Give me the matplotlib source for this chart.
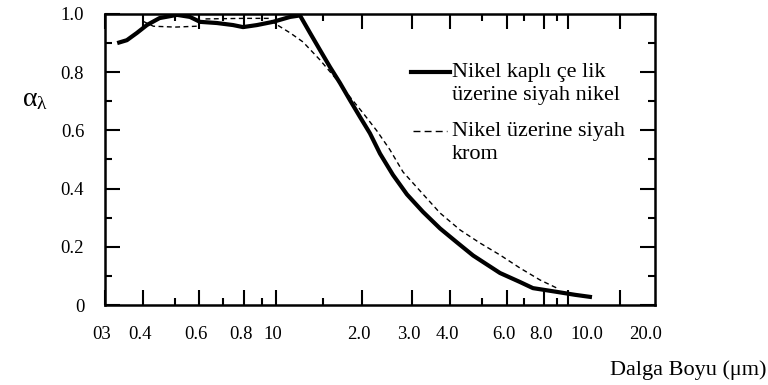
import matplotlib.pyplot as plt
import matplotlib.transforms as mtransforms
import numpy as np

plt.rcParams['font.family'] = ['Liberation Serif', 'DejaVu Serif']

# Nikel kapli celik uzerine siyah nikel (solid, thick)
x_nikel = [0.329, 0.354, 0.382, 0.411, 0.449, 0.508, 0.560, 0.604, 0.673, 0.746, 0.795,
           0.871, 0.977, 1.13, 1.23, 1.341, 1.462, 1.579, 1.70, 1.83, 1.971, 2.133,
           2.315, 2.571, 2.88, 3.26, 3.71, 4.20, 4.70, 5.70, 6.75, 7.43, 9.0, 10.98, 13.77]
y_nikel = [0.90, 0.91, 0.935, 0.962, 0.986, 0.997, 0.99, 0.973, 0.969, 0.962, 0.955,
           0.962, 0.973, 0.99, 0.995, 0.935, 0.876, 0.818, 0.763, 0.704, 0.646, 0.59,
           0.52, 0.447, 0.38, 0.32, 0.263, 0.215, 0.17, 0.11, 0.079, 0.058, 0.045, 0.035, 0.027]

# Nikel uzerine siyah krom (dashed, thin)
x_krom = [0.40, 0.43, 0.50, 0.59, 0.62, 0.80, 0.95, 1.0, 1.13, 1.262, 1.462, 1.664,
          1.83, 2.016, 2.258, 2.51, 2.79, 3.26, 3.71, 4.29, 4.93, 5.70, 6.75, 7.79, 9.0]
y_krom = [0.975, 0.958, 0.955, 0.958, 0.983, 0.985, 0.985, 0.965, 0.935, 0.904, 0.842,
          0.773, 0.715, 0.66, 0.598, 0.533, 0.457, 0.381, 0.316, 0.258, 0.213, 0.172, 0.127,
          0.086, 0.058]

xticks = [0.3, 0.4, 0.6, 0.8, 1.0, 2.0, 3.0, 4.0, 6.0, 8.0, 10.0, 20.0]
xticklabels = ['03', '0.4', '0.6', '0.8', '10', '2.0', '3.0', '4.0', '6.0', '8.0', '10.0', '20.0']
xminor = [0.5, 0.7, 0.9, 1.5, 5.0, 7.0, 9.0]
yticks = [0, 0.2, 0.4, 0.6, 0.8, 1.0]
yticklabels = ['0', '0.2', '0.4', '0.6', '0.8', '1.0']

# the printed axis is a slightly uneven log axis, mapped through these anchors
anchor_vals = np.log10([0.3, 0.4, 0.5, 0.6, 0.7, 0.8, 0.9, 1.0, 1.5, 2, 3, 4, 5, 6, 7, 8, 9, 10, 20, 30])
anchor_pos = np.array([0, 38, 70, 94, 118, 139, 157, 171, 218, 257, 307, 345, 377, 402,
                       419, 439, 452, 463, 515, 550]) / 550.0


def fwd(x):
    x = np.clip(np.asarray(x, dtype=float), 1e-6, None)
    return np.interp(np.log10(x), anchor_vals, anchor_pos)


def inv(p):
    return 10 ** np.interp(p, anchor_pos, anchor_vals)


fig = plt.figure(figsize=(7.68, 3.85), dpi=100)
ax = fig.add_axes([105 / 768, 1 - 305 / 385, 550 / 768, 291 / 385])
ax.set_xscale('function', functions=(fwd, inv))
ax.set_xlim(0.3, 30)
ax.set_ylim(0, 1.0)

ax.plot(x_nikel, y_nikel, color='black', lw=3.0, solid_capstyle='butt',
        solid_joinstyle='round')
ax.plot(x_krom, y_krom, color='black', lw=1.0, dashes=(3.5, 2.5))

ax.set_xticks(xticks)
ax.set_xticklabels(xticklabels)
ax.set_xticks(xminor, minor=True)
ax.set_yticks(yticks)
ax.set_yticklabels(yticklabels)
ax.set_yticks(np.arange(0.1, 1.0, 0.2), minor=True)
ax.tick_params(which='both', direction='in', top=True, right=True, width=1.5,
               labelsize=13.5)
ax.tick_params(which='major', length=11)
ax.tick_params(which='minor', length=5)
ax.tick_params(axis='x', pad=15)
ax.tick_params(axis='y', pad=15)
for s in ax.spines.values():
    s.set_linewidth(1.8)

# the printed labels sit a little off their ticks
label_shift = {'10.0': 19, '20.0': 26}
for lab in ax.get_xticklabels():
    dx = label_shift.get(lab.get_text(), -3)
    lab.set_transform(lab.get_transform() +
                      mtransforms.ScaledTranslation(dx / 100, 0, fig.dpi_scale_trans))

fig.text(22 / 768, 1 - 100 / 385, r'$\mathregular{\alpha_\lambda}$', fontsize=20,
         ha='left', va='center')
fig.text(766 / 768, 1 - 370 / 385, 'Dalga Boyu (μm)', fontsize=16,
         ha='right', va='center')

# legend drawn by hand to keep the two-line layout
ax.plot([(411 - 105) / 550, (450 - 105) / 550], [(305 - 72) / 291] * 2,
        transform=ax.transAxes, color='black', lw=3.0)
ax.text((452 - 105) / 550, (305 - 63) / 291, 'Nikel kaplı çe lik\nüzerine siyah nikel',
        transform=ax.transAxes, fontsize=16, va='top', ha='left',
        linespacing=1.3)
ax.plot([(413 - 105) / 550, (447 - 105) / 550], [(305 - 131) / 291] * 2,
        transform=ax.transAxes, color='black', lw=1.0, dashes=(5, 3))
ax.text((452 - 105) / 550, (305 - 122) / 291, 'Nikel üzerine siyah\nkrom',
        transform=ax.transAxes, fontsize=16, va='top', ha='left',
        linespacing=1.3)

fig.savefig('out.png', dpi=100)
